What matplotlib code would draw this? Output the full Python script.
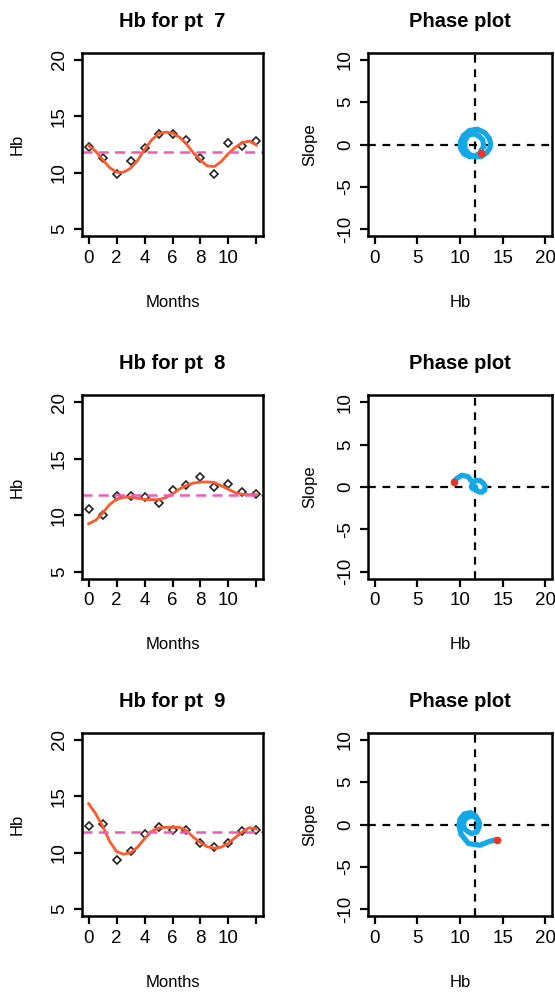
import numpy as np
import matplotlib
matplotlib.use("Agg")
import matplotlib.pyplot as plt

plt.rcParams['font.family'] = ['Liberation Sans', 'DejaVu Sans']
plt.rcParams['axes.unicode_minus'] = False

# observed Hb values, months 0..12
months = np.arange(13)
hb_pt7 = [12.3, 11.3, 9.9, 11.0, 12.2, 13.4, 13.4, 12.9, 11.3, 9.9, 12.6, 12.4, 12.8]
hb_pt8 = [10.55, 10.05, 11.7, 11.7, 11.6, 11.1, 12.2, 12.65, 13.4, 12.5, 12.8, 12.05, 11.9]
hb_pt9 = [12.4, 12.55, 9.4, 10.15, 11.65, 12.25, 12.0, 12.05, 10.9, 10.55, 10.9, 11.95, 12.05]

# fitted curve read at half-month steps
t_fit = np.arange(0, 12.01, 0.5)
fit_pt7 = [12.41, 11.9, 11.15, 10.45, 10.05, 10.05, 10.4, 11.1, 12.05, 12.9, 13.45, 13.6, 13.5,
           13.15, 12.55, 11.75, 11.1, 10.6, 10.55, 11.0, 11.7, 12.25, 12.67, 12.8, 12.45]
fit_pt8 = [9.25, 9.56, 10.2, 10.95, 11.42, 11.58, 11.62, 11.5, 11.4, 11.38, 11.38, 11.55, 11.88,
           12.33, 12.65, 12.85, 12.93, 12.95, 12.9, 12.6, 12.3, 12.0, 11.85, 11.82, 11.83]
fit_pt9 = [14.34, 13.45, 12.35, 11.0, 10.1, 9.87, 10.0, 10.5, 11.25, 11.9, 12.2, 12.25, 12.25,
           12.25, 11.97, 11.36, 10.9, 10.53, 10.4, 10.5, 10.85, 11.35, 11.85, 12.22, 12.1]

hb_mean = 11.8
patients = [7, 8, 9]
observed = [hb_pt7, hb_pt8, hb_pt9]
fits = [fit_pt7, fit_pt8, fit_pt9]

W, H = 555, 994
fig = plt.figure(figsize=(W / 100, H / 100), dpi=100)
fig.patch.set_facecolor('white')

row_tops = [53, 395.5, 733]
ax_h = 183
col_left = [82, 368]
ax_w = [181, 184]


def style(ax):
    for s in ax.spines.values():
        s.set_linewidth(1.8)
    ax.tick_params(direction='out', length=6, width=1.6, labelsize=13.5, pad=4)
    for lab in ax.get_yticklabels():
        lab.set_rotation(90)
        lab.set_va('center')


for i, pt in enumerate(patients):
    top = row_tops[i]
    # time series panel
    ax = fig.add_axes([col_left[0] / W, 1 - (top + ax_h) / H, ax_w[0] / W, ax_h / H])
    ax.plot(months, observed[i], linestyle='none', marker='D', markersize=3.8,
            mfc='none', mec='#222222', mew=1.2)
    ax.plot(t_fit, fits[i], color='#ff5a2c', lw=2.0)
    ax.axhline(hb_mean, color='#f25ab8', lw=1.8, dashes=(4, 2.5))
    ax.set_xlim(-0.48, 12.48)
    ax.set_ylim(4.4, 20.6)
    ax.set_xticks([0, 2, 4, 6, 8, 10, 12])
    ax.set_xticklabels(['0', '2', '4', '6', '8', '10', ''])
    ax.set_yticks([5, 10, 15, 20])
    style(ax)
    ax.set_title('Hb for pt  %d' % pt, fontsize=14.5, fontweight='bold', pad=19)
    ax.set_xlabel('Months', fontsize=12, labelpad=20)
    ax.set_ylabel('Hb', fontsize=12, labelpad=19)

    # phase panel
    f = np.array(fits[i])
    slope = np.gradient(f, t_fit)
    ax2 = fig.add_axes([col_left[1] / W, 1 - (top + ax_h) / H, ax_w[1] / W, ax_h / H])
    ax2.axhline(0, color='black', lw=1.6, dashes=(3.5, 3))
    ax2.axvline(hb_mean, color='black', lw=1.6, dashes=(3.5, 3))
    ax2.plot(f, slope, color='#14a8e6', lw=3.8, solid_capstyle='round')
    ax2.plot(f[0], slope[0], 'o', color='#ee3322', markersize=4.5)
    ax2.set_xlim(-0.8, 20.8)
    ax2.set_ylim(-10.8, 10.8)
    ax2.set_xticks([0, 5, 10, 15, 20])
    ax2.set_yticks([-10, -5, 0, 5, 10])
    style(ax2)
    ax2.set_title('Phase plot', fontsize=14.5, fontweight='bold', pad=19)
    ax2.set_xlabel('Hb', fontsize=12, labelpad=20)
    ax2.set_ylabel('Slope', fontsize=12, labelpad=14)

fig.savefig('out.png', dpi=100, facecolor='white')
